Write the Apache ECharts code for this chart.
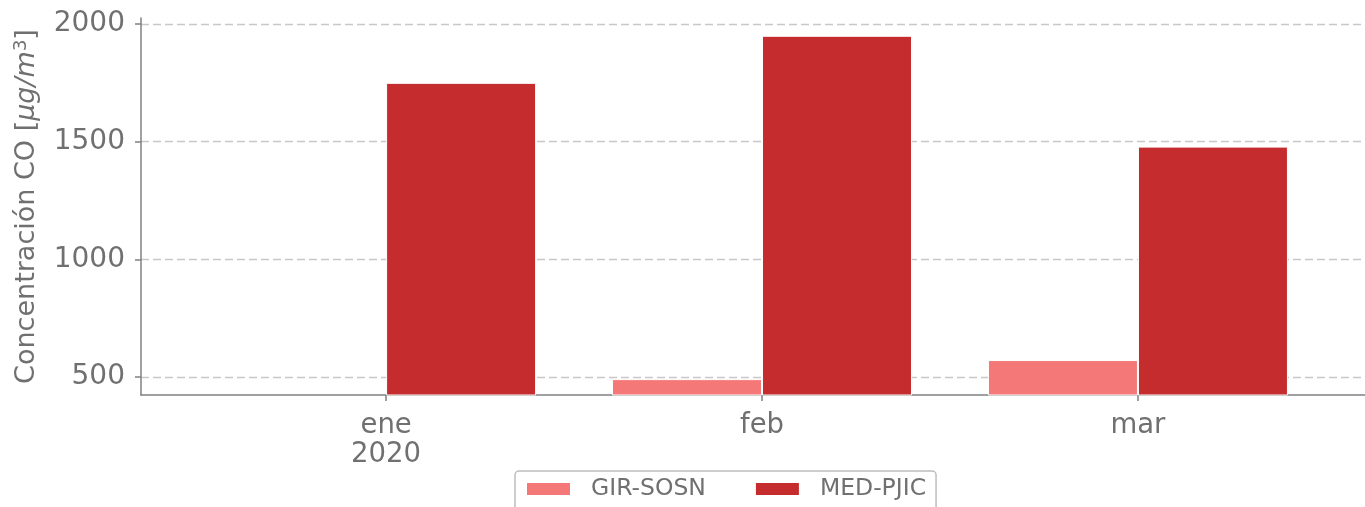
<!DOCTYPE html>
<html><head><meta charset="utf-8">
<script src="https://cdn.jsdelivr.net/npm/echarts@6/dist/echarts.min.js"></script>
<style>html,body{margin:0;padding:0;background:#fff}#c{width:1365px;height:507px}</style>
</head><body><div id="c"></div>
<script>
const categories = ['ene\n2020', 'feb', 'mar'];
const seriesNames = ['GIR-SOSN', 'MED-PJIC'];
const girValues = [null, 491, 572];
const medValues = [1750, 1950, 1479];
const yTicks = [500, 1000, 1500, 2000];
const colors = ['#f47878', '#c52c2e'];

const txt = '#707070';
const font = 'DejaVu Sans';
const chart = echarts.init(document.getElementById('c'));
const toPts = arr => arr.map((v, i) => [i, v]);
chart.setOption({
  animation: false,
  grid: {left: 141, right: 0, top: 18, bottom: 112, containLabel: false},
  xAxis: {
    type: 'value', min: -0.652, max: 2.604,
    axisLine: {show: true, onZero: false, lineStyle: {color: '#808080', width: 1.5}},
    axisTick: {show: true, customValues: [0, 1, 2], length: 6, lineStyle: {color: '#808080', width: 1.5}},
    axisLabel: {customValues: [0, 1, 2], formatter: v => categories[Math.round(v)], color: txt,
      fontFamily: font, fontSize: 27.5, lineHeight: 29, margin: 16},
    splitLine: {show: false}
  },
  yAxis: {
    type: 'value', min: 423.5, max: 2025.5,
    name: 'Concentración CO [{i|μg/m}{s|3}]',
    nameLocation: 'middle', nameRotate: 90, nameGap: 99,
    nameTextStyle: {color: txt, fontFamily: font, fontSize: 27,
      rich: {i: {fontStyle: 'italic', fontFamily: font, fontSize: 27, color: txt},
             s: {fontFamily: font, fontSize: 18, color: txt, verticalAlign: 'top', padding: [0,0,12,0]}}},
    axisLine: {show: true, onZero: false, lineStyle: {color: '#808080', width: 1.5}},
    axisTick: {show: true, customValues: yTicks, length: 6, lineStyle: {color: '#808080', width: 1.5}},
    axisLabel: {customValues: yTicks, formatter: v => String(v), color: txt, fontFamily: font, fontSize: 28, margin: 16},
    splitLine: {show: true, lineStyle: {color: '#c8c8c8', type: [8, 4], width: 1.4}}
  },
  legend: {
    left: 515, top: 471,
    padding: [6, 10, 10, 10],
    itemWidth: 45, itemHeight: 14, itemGap: 48,
    borderColor: '#bdbdbd', borderWidth: 1.5, borderRadius: 4,
    icon: 'rect',
    textStyle: {color: txt, fontFamily: font, fontSize: 23.5, padding: [0, 0, 0, 15]},
    data: seriesNames
  },
  series: [
    {name: seriesNames[0], type: 'bar', data: toPts(girValues), barWidth: 150, barGap: '0%',
     itemStyle: {color: colors[0], borderColor: '#fff', borderWidth: 1}},
    {name: seriesNames[1], type: 'bar', data: toPts(medValues), barWidth: 150, barGap: '0%',
     itemStyle: {color: colors[1], borderColor: '#fff', borderWidth: 1}}
  ]
});
</script></body></html>
